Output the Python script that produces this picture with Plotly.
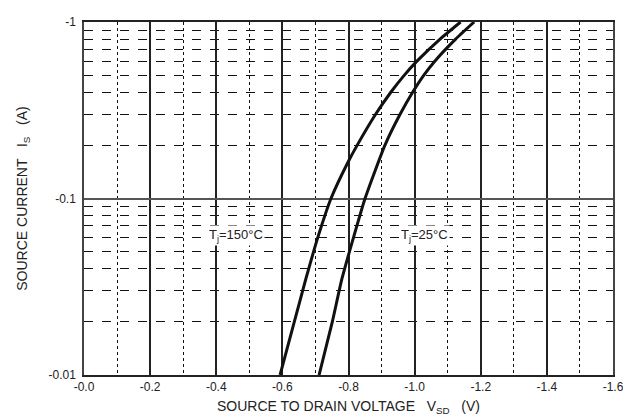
import numpy as np
import plotly.graph_objects as go

# Source-drain diode forward characteristic
v_150 = [-0.593, -0.636, -0.671, -0.707, -0.747, -0.798, -0.826, -0.882, -0.928, -0.969, -1.007, -1.077, -1.139]
i_150 = [-0.01, -0.02, -0.035, -0.06, -0.1, -0.16, -0.2, -0.3, -0.4, -0.5, -0.6, -0.8, -1.0]

v_25 = [-0.711, -0.751, -0.780, -0.815, -0.850, -0.910, -0.956, -0.994, -1.028, -1.061, -1.124, -1.180]
i_25 = [-0.01, -0.02, -0.035, -0.06, -0.1, -0.2, -0.3, -0.4, -0.5, -0.6, -0.8, -1.0]

x_tick_vals = [0.0, -0.2, -0.4, -0.6, -0.8, -1.0, -1.2, -1.4, -1.6]
x_tick_text = ["-0.0", "-0.2", "-0.4", "-0.6", "-0.8", "-1.0", "-1.2", "-1.4", "-1.6"]
y_tick_vals = [0.01, 0.1, 1]
y_tick_text = ["-0.01", "-0.1", "-1"]
y_minor_vals = [m * d for d in (0.01, 0.1) for m in range(2, 10)]
x_minor_vals = [-0.1, -0.3, -0.5, -0.7, -0.9, -1.1, -1.3, -1.5]

fig = go.Figure()
for v, i in ((v_150, i_150), (v_25, i_25)):
    fig.add_trace(go.Scatter(x=v, y=np.abs(i), mode="lines",
                             line=dict(color="#111", width=3, shape="spline", smoothing=0.5),
                             showlegend=False, hoverinfo="skip"))

font = dict(family="Liberation Sans, Arial, sans-serif", color="#222")

# page body has an 8px margin, so the figure is sized/offset to compensate
fig.update_layout(
    width=623, height=411,
    margin=dict(l=76, r=18, t=7, b=38),
    paper_bgcolor="white", plot_bgcolor="white",
    font=dict(**font, size=12),
    xaxis=dict(
        range=[0, -1.6], tickmode="array", tickvals=x_tick_vals, ticktext=x_tick_text,
        showgrid=True, gridcolor="#222", gridwidth=1.5,
        minor=dict(tickmode="array", tickvals=x_minor_vals, showgrid=True,
                   gridcolor="#111", griddash="dot", gridwidth=1.3, ticks=""),
        showline=True, linecolor="#222", linewidth=2, mirror=True,
        ticks="", tickfont=dict(size=12), zeroline=False,
        title=dict(text="SOURCE TO DRAIN VOLTAGE   V<sub>SD</sub>   (V)",
                   font=dict(size=14), standoff=8),
    ),
    yaxis=dict(
        type="log", range=[-2, 0], tickmode="array", tickvals=y_tick_vals, ticktext=y_tick_text,
        showgrid=True, gridcolor="#555", gridwidth=1.6,
        minor=dict(tickmode="array", tickvals=y_minor_vals, showgrid=True,
                   gridcolor="#111", griddash="dash", gridwidth=1.2, ticks=""),
        showline=True, linecolor="#444", linewidth=1.5, mirror=True,
        ticks="", tickfont=dict(size=12), ticklabelstandoff=4,
        title=dict(text="SOURCE CURRENT   I<sub>S</sub>   (A)", font=dict(size=14), standoff=18),
    ),
)

fig.add_annotation(x=-0.46, y=np.log10(0.062), text="T<sub>j</sub>=150°C", showarrow=False,
                   font=dict(size=13, color="#222"), bgcolor="white")
fig.add_annotation(x=-1.03, y=np.log10(0.062), text="T<sub>j</sub>=25°C", showarrow=False,
                   font=dict(size=13, color="#222"), bgcolor="white")

fig.write_html("out.html")
